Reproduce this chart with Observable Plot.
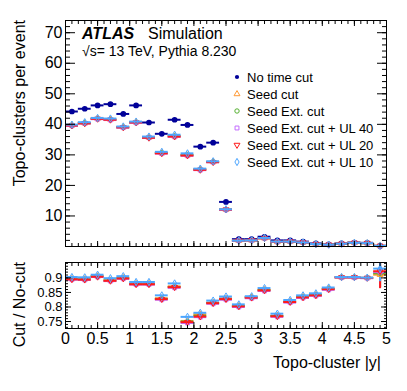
<!DOCTYPE html>
<html><head><meta charset="utf-8">
<script src="https://cdn.jsdelivr.net/npm/d3@7"></script>
<script src="https://cdn.jsdelivr.net/npm/@observablehq/plot@0.6"></script>
<style>
body{margin:0;background:#fff;}
#wrap{position:relative;width:407px;height:391px;overflow:hidden;font-family:"Liberation Sans",Arial,Helvetica,sans-serif;}
#wrap > svg{position:absolute;left:0;}
</style></head><body><div id="wrap"></div>
<script>
// ---- data ----
const binLow  = [0,0.2,0.4,0.6,0.8,1.0,1.2,1.4,1.6,1.8,2.0,2.2,2.4,2.6,2.8,3.0,3.2,3.4,3.6,3.8,4.0,4.2,4.4,4.6,4.8];
const binHigh = [0.2,0.4,0.6,0.8,1.0,1.2,1.4,1.6,1.8,2.0,2.2,2.4,2.6,2.8,3.0,3.2,3.4,3.6,3.8,4.0,4.2,4.4,4.6,4.8,5.0];

const noTimeCut = [44.2,45.1,46.2,46.6,43.4,46.2,40.6,36.9,41.5,39.8,32.7,34.0,14.6,2.4,2.4,3.2,2.0,2.0,1.6,1.0,0.7,1.0,1.3,1.2,0.2];
const seedCut   = [39.7,40.4,41.9,41.6,39.1,40.7,35.7,30.6,36.1,29.9,25.3,27.7,12.1,1.9,2.0,2.7,1.5,1.6,1.3,0.8,0.6,0.9,1.2,1.1,0.2];
const seedExt   = [39.6,40.4,41.8,41.5,39.0,40.6,35.7,30.6,36.1,29.9,25.2,27.7,12.1,1.9,2.0,2.7,1.5,1.6,1.3,0.8,0.6,0.9,1.2,1.1,0.2];
const seedUL40  = [39.5,40.3,41.7,41.4,38.9,40.5,35.6,30.4,35.9,29.7,25.0,27.6,12.0,1.9,2.0,2.7,1.5,1.6,1.3,0.8,0.6,0.9,1.2,1.1,0.2];
const seedUL20  = [39.6,40.3,41.8,41.5,39.0,40.6,35.6,30.5,36.0,29.8,25.1,27.6,12.1,1.9,2.0,2.7,1.5,1.6,1.3,0.8,0.6,0.9,1.2,1.1,0.2];
const seedUL10  = [39.9,40.7,42.1,41.9,39.3,40.9,36.0,31.0,36.6,30.5,25.5,27.9,12.2,1.9,2.0,2.8,1.6,1.6,1.3,0.8,0.6,0.9,1.2,1.1,0.2];

const ratioSeed = [0.897,0.896,0.906,0.892,0.900,0.880,0.880,0.830,0.871,0.752,0.775,0.815,0.829,0.804,0.834,0.859,0.770,0.819,0.835,0.842,0.863,0.902,0.902,0.900,0.911];
const ratioExt  = [0.896,0.895,0.905,0.891,0.899,0.879,0.879,0.828,0.869,0.750,0.770,0.814,0.828,0.803,0.833,0.858,0.769,0.818,0.834,0.841,0.862,0.902,0.902,0.900,0.916];
const ratioUL40 = [0.894,0.893,0.903,0.889,0.897,0.877,0.877,0.825,0.866,0.745,0.765,0.811,0.825,0.800,0.830,0.855,0.766,0.815,0.831,0.838,0.859,0.901,0.901,0.899,0.920];
const ratioUL20 = [0.895,0.894,0.904,0.890,0.898,0.878,0.878,0.827,0.868,0.748,0.767,0.813,0.827,0.802,0.832,0.857,0.768,0.817,0.833,0.840,0.861,0.902,0.902,0.900,0.923];
const ratioUL10 = [0.903,0.902,0.911,0.899,0.906,0.886,0.886,0.840,0.881,0.766,0.780,0.822,0.836,0.809,0.837,0.865,0.777,0.824,0.840,0.847,0.867,0.903,0.903,0.901,0.932];
// ratio uncertainty in the last bin, per series (seed, ext, UL40, UL20, UL10)
const lastBinRatioErr = [0.045,0.05,0.055,0.06,0.045];

const seriesNames = ["Seed cut","Seed Ext. cut","Seed Ext. cut + UL 40","Seed Ext. cut + UL 20","Seed Ext. cut + UL 10"];
const refName = "No time cut";

const yTicksTop = [10,20,30,40,50,60,70];
const yTicksRatio = [0.75,0.8,0.85,0.9];
const xTicks = [0,0.5,1,1.5,2,2.5,3,3.5,4,4.5,5];

// ---- styles ----
const FONT = '"Liberation Sans", Arial, Helvetica, sans-serif';
const refColor = "#000099";
const colors  = ["#ff9933","#55b030","#c36cff","#ff1a1a","#4da6ff"];
const symbols = ["triangle","circle","square","triangle","diamond"];
const rotates = [0,0,0,180,0];
const MR = 2.2;

const topSeries = [seedCut, seedExt, seedUL40, seedUL20, seedUL10];
const ratioSeries = [ratioSeed, ratioExt, ratioUL40, ratioUL20, ratioUL10];

const rows = vals => vals.map((v,i)=>({lo:binLow[i], hi:binHigh[i], c:(binLow[i]+binHigh[i])/2, v}));
const minor = (a,b,s) => d3.range(Math.round((b-a)/s)+1).map(i=>+(a+i*s).toFixed(4));

function seriesMarks(vals, k, clip) {
  const r = rows(vals);
  return [
    Plot.ruleY(r, {y:"v", x1:"lo", x2:"hi", stroke:colors[k], strokeWidth:2, clip}),
    Plot.dot(r, {x:"c", y:"v", symbol:symbols[k], rotate:rotates[k], r:MR, fill:"none", stroke:colors[k], strokeWidth:1, clip})
  ];
}
function tickMarks(axis, anchor, ticks, size) {
  const f = axis === "x" ? Plot.axisX : Plot.axisY;
  return f({ticks, anchor, tickSize:-size, fill:"none", label:null, stroke:"black"});
}

// ---- top panel ----
const topMarks = [
  Plot.ruleY(rows(noTimeCut), {y:"v", x1:"lo", x2:"hi", stroke:refColor, strokeWidth:2}),
  Plot.dot(rows(noTimeCut), {x:"c", y:"v", r:2.1, fill:refColor, stroke:refColor})
];
topSeries.forEach((s,k)=>topMarks.push(...seriesMarks(s,k,false)));
topMarks.push(
  Plot.frame({stroke:"black"}),
  tickMarks("y","left",yTicksTop,10), tickMarks("y","left",minor(0,74,2),5),
  tickMarks("y","right",yTicksTop,10), tickMarks("y","right",minor(0,74,2),5),
  tickMarks("x","bottom",xTicks,5), tickMarks("x","bottom",minor(0,5,0.1),3),
  tickMarks("x","top",xTicks,5), tickMarks("x","top",minor(0,5,0.1),3),
  Plot.axisY({ticks:yTicksTop, anchor:"left", tickSize:0, tickPadding:3, fontSize:16, label:null, tickFormat:d=>String(d)})
);
const topPlot = Plot.plot({
  width:407, height:250, marginLeft:65, marginRight:21, marginTop:20, marginBottom:4,
  x:{domain:[0,5]}, y:{domain:[0,74]},
  style:{fontFamily:FONT, fontSize:"16px", color:"black", background:"transparent", overflow:"visible"},
  marks: topMarks
});
topPlot.style.top = "0px";

// ---- ratio panel ----
const ratioMarks = [];
ratioSeries.forEach((s,k)=>{
  const last = [{c:(binLow[24]+binHigh[24])/2, y1:s[24]-lastBinRatioErr[k], y2:s[24]+lastBinRatioErr[k]}];
  ratioMarks.push(Plot.ruleX(last, {x:"c", y1:"y1", y2:"y2", stroke:colors[k], strokeWidth:2, clip:true}));
});
ratioSeries.forEach((s,k)=>ratioMarks.push(...seriesMarks(s,k,true)));
ratioMarks.push(
  Plot.frame({stroke:"black"}),
  tickMarks("y","left",yTicksRatio,6), tickMarks("y","left",minor(0.73,0.95,0.01),3),
  tickMarks("y","right",yTicksRatio,6), tickMarks("y","right",minor(0.73,0.95,0.01),3),
  tickMarks("x","bottom",xTicks,6), tickMarks("x","bottom",minor(0,5,0.1),3),
  tickMarks("x","top",xTicks,5), tickMarks("x","top",minor(0,5,0.1),3),
  Plot.axisY({ticks:yTicksRatio, anchor:"left", tickSize:0, tickPadding:3, fontSize:13, label:null, tickFormat:d=>String(d)}),
  Plot.axisX({ticks:xTicks, anchor:"bottom", tickSize:0, tickPadding:4, fontSize:16, label:null, tickFormat:d=>String(d)})
);
const ratioPlot = Plot.plot({
  width:407, height:141, marginLeft:65, marginRight:21, marginTop:12, marginBottom:63,
  x:{domain:[0,5]}, y:{domain:[0.726,0.953]},
  style:{fontFamily:FONT, fontSize:"16px", color:"black", background:"transparent", overflow:"visible"},
  marks: ratioMarks
});
ratioPlot.style.top = "250px";

const wrap = document.getElementById("wrap");
wrap.appendChild(topPlot);
wrap.appendChild(ratioPlot);

// ---- overlay: titles, labels, legend ----
const ov = d3.create("svg").attr("width",407).attr("height",391)
  .style("position","absolute").style("top","0px").style("left","0px")
  .style("font-family",FONT).style("pointer-events","none");
ov.append("text").attr("transform","translate(19,20) rotate(-90)").attr("text-anchor","end")
  .attr("dy","0.35em").attr("font-size",16).text("Topo-clusters per event");
ov.append("text").attr("transform","translate(19,262) rotate(-90)").attr("text-anchor","end")
  .attr("dy","0.35em").attr("font-size",16).text("Cut / No-cut");
ov.append("text").attr("x",381).attr("y",368).attr("text-anchor","end").attr("font-size",16).text("Topo-cluster |y|");
ov.append("text").attr("x",82).attr("y",39).attr("font-size",16).attr("font-weight","bold").attr("font-style","italic").text("ATLAS");
ov.append("text").attr("x",148).attr("y",39).attr("font-size",16).text("Simulation");
ov.append("text").attr("x",82).attr("y",56).attr("font-size",14).text("\u221As= 13 TeV, Pythia 8.230");

const legNames = [refName, ...seriesNames];
legNames.forEach((name,i)=>{
  const y = 77 + i*17, x = 237;
  if (i === 0) {
    ov.append("circle").attr("cx",x).attr("cy",y).attr("r",2.1).attr("fill",refColor);
  } else {
    const k = i-1;
    const sym = {triangle:d3.symbolTriangle, circle:d3.symbolCircle, square:d3.symbolSquare, diamond:d3.symbolDiamond}[symbols[k]];
    ov.append("path").attr("d", d3.symbol(sym, MR*MR*Math.PI)())
      .attr("transform",`translate(${x},${y}) rotate(${rotates[k]})`)
      .attr("fill","none").attr("stroke",colors[k]).attr("stroke-width",1);
  }
  ov.append("text").attr("x",247).attr("y",y).attr("dy","0.35em").attr("font-size",13).text(name);
});
wrap.appendChild(ov.node());
</script></body></html>
